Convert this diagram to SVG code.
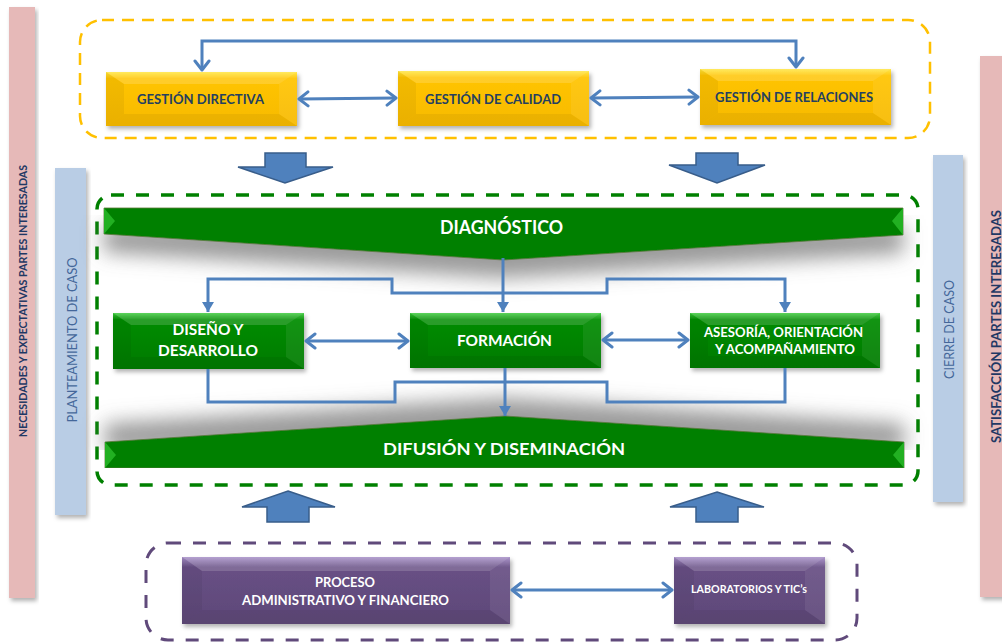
<svg xmlns="http://www.w3.org/2000/svg" width="1002" height="642" viewBox="0 0 1002 642">
<defs>
  <style>
    .lbl{font-family:Lato,"Open Sans","Liberation Sans",sans-serif;font-weight:bold;text-anchor:middle}
    .dk{fill:#243F60}
    .wh{fill:#FFFFFF}
    .vt{font-family:Lato,"Open Sans","Liberation Sans",sans-serif;text-anchor:middle}
    .conn{fill:none;stroke:#4F81BD;stroke-width:3;stroke-linejoin:miter}
    .blk{fill:#4F81BD;stroke:#385D8A;stroke-width:1.5}
    .hi{fill:#FFFFFF;opacity:0.16}
    .lo{fill:#000000;opacity:0.05}
    .sd{fill:#000000;opacity:0.05}
    .rh{fill:#FFFFFF;opacity:0.07}
  </style>
  <linearGradient id="gY" x1="0" y1="0" x2="0" y2="1">
    <stop offset="0" stop-color="#FFE640"/><stop offset="0.12" stop-color="#FFC400"/><stop offset="1" stop-color="#F7BA00"/>
  </linearGradient>
  <linearGradient id="gG" x1="0" y1="0" x2="0" y2="1">
    <stop offset="0" stop-color="#3DCB3D"/><stop offset="0.12" stop-color="#008C00"/><stop offset="1" stop-color="#007A00"/>
  </linearGradient>
  <linearGradient id="gP" x1="0" y1="0" x2="0" y2="1">
    <stop offset="0" stop-color="#A78FC8"/><stop offset="0.15" stop-color="#685085"/><stop offset="1" stop-color="#5E4878"/>
  </linearGradient>
  <filter id="sh" x="-10%" y="-20%" width="125%" height="150%">
    <feDropShadow dx="2" dy="3" stdDeviation="2" flood-color="#000" flood-opacity="0.3"/>
  </filter>
  <filter id="bandDn" x="-5%" y="-20%" width="110%" height="240%">
    <feGaussianBlur in="SourceAlpha" stdDeviation="10"/>
    <feOffset dx="0" dy="18" result="b"/>
    <feFlood flood-color="#707070" flood-opacity="0.7"/>
    <feComposite in2="b" operator="in"/>
    <feMerge><feMergeNode/><feMergeNode in="SourceGraphic"/></feMerge>
  </filter>
  <filter id="bandUp" x="-5%" y="-140%" width="110%" height="240%">
    <feGaussianBlur in="SourceAlpha" stdDeviation="10"/>
    <feOffset dx="0" dy="-18" result="b"/>
    <feFlood flood-color="#707070" flood-opacity="0.7"/>
    <feComposite in2="b" operator="in"/>
    <feMerge><feMergeNode/><feMergeNode in="SourceGraphic"/></feMerge>
  </filter>
  <marker id="op" viewBox="-12 -9 14 18" refX="0" refY="0" markerWidth="14" markerHeight="18" markerUnits="userSpaceOnUse" orient="auto-start-reverse">
    <path d="M-9,-7 L0,0 L-9,7" fill="none" stroke="#4F81BD" stroke-width="3" stroke-linecap="round" stroke-linejoin="round"/>
  </marker>
  <marker id="fl" viewBox="-11 -7 12 14" refX="0" refY="0" markerWidth="12" markerHeight="14" markerUnits="userSpaceOnUse" orient="auto">
    <path d="M-10,-6 L0,0 L-10,6 Z" fill="#4F81BD"/>
  </marker>
</defs>

<rect width="1002" height="642" fill="#FFFFFF"/>

<!-- side bars -->
<g id="bar-necesidades">
  <rect x="9" y="7" width="26" height="591" fill="#E6B9B8" filter="url(#sh)"/>
  <text class="vt" transform="translate(27,301) rotate(-90)" font-size="12" font-weight="bold" fill="#1F3864" textLength="272" lengthAdjust="spacingAndGlyphs">NECESIDADES Y EXPECTATIVAS PARTES INTERESADAS</text>
</g>
<g id="bar-planteamiento">
  <rect x="55" y="168" width="31" height="347" fill="#B9CDE5" filter="url(#sh)"/>
  <text class="vt" transform="translate(77,340) rotate(-90)" font-size="14" fill="#44679A" textLength="165" lengthAdjust="spacingAndGlyphs">PLANTEAMIENTO DE CASO</text>
</g>
<g id="bar-cierre">
  <rect x="933" y="155" width="30" height="347" fill="#B9CDE5" filter="url(#sh)"/>
  <text class="vt" transform="translate(954,329.5) rotate(-90)" font-size="14" fill="#44679A" textLength="99" lengthAdjust="spacingAndGlyphs">CIERRE  DE CASO</text>
</g>
<g id="bar-satisfaccion">
  <rect x="980" y="56" width="26" height="541" fill="#E6B9B8" filter="url(#sh)"/>
  <text class="vt" transform="translate(1001,326.5) rotate(-90)" font-size="13.5" font-weight="bold" fill="#1F3864" textLength="233" lengthAdjust="spacingAndGlyphs">SATISFACCIÓN PARTES INTERESADAS</text>
</g>

<!-- group containers -->
<g id="grupo-gestion">
  <rect x="80" y="20" width="850" height="118" rx="22" fill="none" stroke="#FFC000" stroke-width="2.5" stroke-dasharray="12 8"/>
</g>
<g id="grupo-misional">
  <rect x="97" y="195" width="821" height="290" rx="14" fill="none" stroke="#008000" stroke-width="3.5" stroke-dasharray="13 12"/>
</g>
<g id="grupo-apoyo">
  <rect x="146" y="543" width="711" height="97" rx="22" fill="none" stroke="#604A7B" stroke-width="3" stroke-dasharray="13 12"/>
</g>

<!-- bands -->
<g id="diagnostico">
  <polygon points="104,208 903,208 903,235 503,260 104,234" fill="#008000" stroke="#5A7A3A" stroke-width="0.8" filter="url(#bandDn)"/>
  <polygon points="104,208 115,221 104,234" fill="#22B022"/>
  <polygon points="903,208 892,221 903,235" fill="#22B022"/>
  <text class="lbl wh" x="501.5" y="234" font-size="18" textLength="123" lengthAdjust="spacingAndGlyphs">DIAGNÓSTICO</text>
</g>
<g id="difusion">
  <polygon points="105,442 505,416 904,442 904,468 105,468" fill="#008000" stroke="#5A7A3A" stroke-width="0.8" filter="url(#bandUp)"/>
  <polygon points="105,442 116,455 105,468" fill="#22B022"/>
  <polygon points="904,442 893,455 904,468" fill="#22B022"/>
  <text class="lbl wh" x="504" y="455" font-size="17" textLength="242" lengthAdjust="spacingAndGlyphs">DIFUSIÓN Y DISEMINACIÓN</text>
</g>

<!-- gestion nodes -->
<g id="gestion-directiva">
  <rect x="106" y="72" width="191" height="54" fill="url(#gY)" filter="url(#sh)"/>
  <path class="hi" d="M106,72 H297 L279,84 H124 Z"/>
  <path class="lo" d="M106,126 H297 L279,114 H124 Z"/>
  <path class="sd" d="M106,72 L124,84 V114 L106,126 Z"/>
  <path class="rh" d="M297,72 L279,84 V114 L297,126 Z"/>
  <text class="lbl dk" x="200.5" y="104" font-size="13" textLength="127" lengthAdjust="spacingAndGlyphs">GESTIÓN DIRECTIVA</text>
</g>
<g id="gestion-calidad">
  <rect x="398" y="71" width="191" height="55" fill="url(#gY)" filter="url(#sh)"/>
  <path class="hi" d="M398,71 H589 L571,83 H416 Z"/>
  <path class="lo" d="M398,126 H589 L571,114 H416 Z"/>
  <path class="sd" d="M398,71 L416,83 V114 L398,126 Z"/>
  <path class="rh" d="M589,71 L571,83 V114 L589,126 Z"/>
  <text class="lbl dk" x="493" y="104" font-size="13" textLength="136" lengthAdjust="spacingAndGlyphs">GESTIÓN DE CALIDAD</text>
</g>
<g id="gestion-relaciones">
  <rect x="700" y="69" width="191" height="56" fill="url(#gY)" filter="url(#sh)"/>
  <path class="hi" d="M700,69 H891 L873,81 H718 Z"/>
  <path class="lo" d="M700,125 H891 L873,113 H718 Z"/>
  <path class="sd" d="M700,69 L718,81 V113 L700,125 Z"/>
  <path class="rh" d="M891,69 L873,81 V113 L891,125 Z"/>
  <text class="lbl dk" x="794" y="102" font-size="13" textLength="158" lengthAdjust="spacingAndGlyphs">GESTIÓN DE RELACIONES</text>
</g>

<!-- misional nodes -->
<g id="diseno-desarrollo">
  <rect x="113" y="313" width="191" height="56" fill="url(#gG)" filter="url(#sh)"/>
  <path class="hi" d="M113,313 H304 L286,325 H131 Z"/>
  <path class="lo" d="M113,369 H304 L286,357 H131 Z"/>
  <path class="sd" d="M113,313 L131,325 V357 L113,369 Z"/>
  <path class="rh" d="M304,313 L286,325 V357 L304,369 Z"/>
  <text class="lbl wh" x="208" y="335" font-size="16" textLength="71" lengthAdjust="spacingAndGlyphs">DISEÑO Y</text>
  <text class="lbl wh" x="208" y="356" font-size="16" textLength="100" lengthAdjust="spacingAndGlyphs">DESARROLLO</text>
</g>
<g id="formacion">
  <rect x="410" y="313" width="191" height="55" fill="url(#gG)" filter="url(#sh)"/>
  <path class="hi" d="M410,313 H601 L583,325 H428 Z"/>
  <path class="lo" d="M410,368 H601 L583,356 H428 Z"/>
  <path class="sd" d="M410,313 L428,325 V356 L410,368 Z"/>
  <path class="rh" d="M601,313 L583,325 V356 L601,368 Z"/>
  <text class="lbl wh" x="504.5" y="346" font-size="15" textLength="95" lengthAdjust="spacingAndGlyphs">FORMACIÓN</text>
</g>
<g id="asesoria">
  <rect x="690" y="313" width="190" height="55" fill="url(#gG)" filter="url(#sh)"/>
  <path class="hi" d="M690,313 H880 L862,325 H708 Z"/>
  <path class="lo" d="M690,368 H880 L862,356 H708 Z"/>
  <path class="sd" d="M690,313 L708,325 V356 L690,368 Z"/>
  <path class="rh" d="M880,313 L862,325 V356 L880,368 Z"/>
  <text class="lbl wh" x="783.5" y="337" font-size="13.5" textLength="159" lengthAdjust="spacingAndGlyphs">ASESORÍA, ORIENTACIÓN</text>
  <text class="lbl wh" x="785" y="354" font-size="13.5" textLength="140" lengthAdjust="spacingAndGlyphs">Y ACOMPAÑAMIENTO</text>
</g>

<!-- apoyo nodes -->
<g id="proceso-administrativo">
  <rect x="182" y="557" width="328" height="67" fill="url(#gP)" filter="url(#sh)"/>
  <path class="hi" d="M182,557 H510 L490,571 H202 Z"/>
  <path class="lo" d="M182,624 H510 L490,610 H202 Z"/>
  <path class="sd" d="M182,557 L202,571 V610 L182,624 Z"/>
  <path class="rh" d="M510,557 L490,571 V610 L510,624 Z"/>
  <text class="lbl wh" x="345" y="587" font-size="13.5" textLength="60" lengthAdjust="spacingAndGlyphs">PROCESO</text>
  <text class="lbl wh" x="345.5" y="605" font-size="13.5" textLength="207" lengthAdjust="spacingAndGlyphs">ADMINISTRATIVO Y FINANCIERO</text>
</g>
<g id="laboratorios">
  <rect x="674" y="557" width="151" height="67" fill="url(#gP)" filter="url(#sh)"/>
  <path class="hi" d="M674,557 H825 L805,571 H694 Z"/>
  <path class="lo" d="M674,624 H825 L805,610 H694 Z"/>
  <path class="sd" d="M674,557 L694,571 V610 L674,624 Z"/>
  <path class="rh" d="M825,557 L805,571 V610 L825,624 Z"/>
  <text class="lbl wh" x="749" y="593" font-size="10.5" textLength="116" lengthAdjust="spacingAndGlyphs">LABORATORIOS Y TIC’s</text>
</g>

<!-- connectors -->
<g id="connectors">
  <path class="conn" d="M202,70 V41 H796 V67" marker-start="url(#op)" marker-end="url(#op)"/>
  <path class="conn" d="M299,99 L396,98" marker-start="url(#op)" marker-end="url(#op)"/>
  <path class="conn" d="M591,98 L698,97" marker-start="url(#op)" marker-end="url(#op)"/>

  <path class="conn" d="M503,258 V312" marker-end="url(#fl)"/>
  <path class="conn" d="M503,293 H392 V279 H208 V312" marker-end="url(#fl)"/>
  <path class="conn" d="M503,293 H607 V279 H785 V312" marker-end="url(#fl)"/>
  <path class="conn" d="M208,369 V402 H395 V382 H505"/>
  <path class="conn" d="M785,368 V402 H607 V382 H505"/>
  <path class="conn" d="M505,368 V416" marker-end="url(#fl)"/>
  <path class="conn" d="M306,341 L408,341" marker-start="url(#op)" marker-end="url(#op)"/>
  <path class="conn" d="M603,340 L688,340" marker-start="url(#op)" marker-end="url(#op)"/>

  <path class="conn" d="M512,590 L672,590" marker-start="url(#op)" marker-end="url(#op)"/>

  <polygon class="blk" points="265,153 306,153 306,167 333,167 285,183 238,167 265,167"/>
  <polygon class="blk" points="696,153 738,153 738,165 765,165 717,183 669,165 696,165"/>
  <polygon class="blk" points="288,491 335,507 309,507 309,522 267,522 267,507 242,507"/>
  <polygon class="blk" points="717,492 764,507 738,507 738,522 696,522 696,507 670,507"/>
</g>
</svg>
